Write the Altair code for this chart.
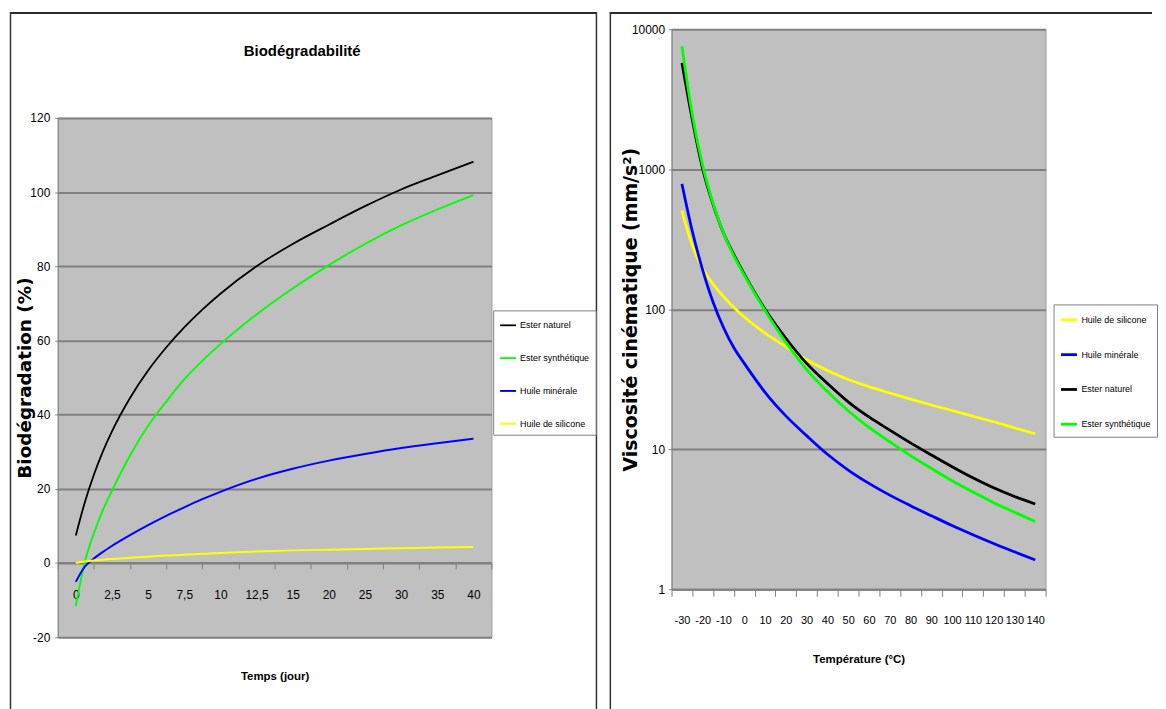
import json
import altair as alt
import pandas as pd

# ---------------- Left panel: Biodégradabilité ----------------
bio_title = "Biodégradabilité"
bio_names = ["Ester naturel", "Ester synthétique", "Huile minérale", "Huile de silicone"]
bio_colors = ["#000000", "#00ff00", "#0000ff", "#ffff00"]
bio_widths = [1.8, 2.0, 2.8, 2.8]
bio_labels = ["0", "2,5", "5", "7,5", "10", "12,5", "15", "20", "25", "30", "35", "40"]
# sample positions along the category axis (category index)
bio_pos = [0, 0.25, 0.5, 0.75, 1, 1.5, 2, 2.5, 3, 3.5, 4, 5, 6, 7, 8, 9, 10, 11]
bio_ester_naturel = [7.4, 16.4, 23.8, 30.1, 35.5, 44.5, 51.9, 58.1, 63.5, 68.3, 72.6,
                     80.0, 86.0, 91.2, 96.2, 100.7, 104.5, 108.2]
bio_ester_synth = [-11.6, 0.3, 8.0, 14.3, 19.5, 29.0, 37.0, 43.5, 49.5, 54.5, 59.0,
                   67.0, 74.0, 80.3, 86.0, 91.0, 95.3, 99.2]
bio_huile_min = [-5.1, -1.0, 1.2, 3.0, 4.6, 7.5, 10.2, 12.7, 15.0, 17.2, 19.2,
                 22.7, 25.4, 27.6, 29.4, 31.0, 32.3, 33.5]
bio_huile_sil = [0.0, 0.4, 0.7, 0.9, 1.1, 1.4, 1.7, 2.0, 2.2, 2.5, 2.7,
                 3.1, 3.4, 3.6, 3.8, 4.0, 4.2, 4.3]
bio_yticks = [-20, 0, 20, 40, 60, 80, 100, 120]

# ---------------- Right panel: viscosité ----------------
visc_names = ["Huile de silicone", "Huile minérale", "Ester naturel", "Ester synthétique"]
visc_colors = ["#ffff00", "#0000ff", "#000000", "#00ff00"]
visc_widths = [2.8, 2.8, 2.0, 2.0]
visc_temp_labels = ["-30", "-20", "-10", "0", "10", "20", "30", "40", "50", "60",
                    "70", "80", "90", "100", "110", "120", "130", "140"]
visc_temp = [-30, -25, -20, -15, -10, -5, 0, 10, 20, 30, 40, 50, 60, 70, 80,
             90, 100, 110, 120, 130, 140]
visc_silicone = [507, 285, 195, 151, 123, 103, 88, 67.5, 54, 43.5, 36.5, 31.5,
                 28, 25.2, 22.8, 20.7, 18.9, 17.2, 15.7, 14.2, 12.9]
visc_minerale = [785, 360, 190, 112, 74, 53, 41, 25.5, 17.3, 12.5, 9.2, 7.1,
                 5.7, 4.7, 3.95, 3.35, 2.85, 2.45, 2.12, 1.85, 1.62]
visc_naturel = [5740, 2250, 1000, 560, 350, 245, 178, 100, 62, 41, 29.5, 21.8,
                17.0, 13.7, 11.1, 9.1, 7.5, 6.25, 5.3, 4.6, 4.06]
visc_synth = [7550, 2450, 1060, 570, 350, 240, 175, 98, 58, 37, 25.8, 18.8,
              14.3, 11.3, 9.0, 7.3, 5.95, 4.95, 4.15, 3.55, 3.04]
visc_yticks = [1, 10, 100, 1000, 10000]

LAB = "Liberation Sans, Arial, Helvetica, sans-serif"
WIDE = "DejaVu Sans, Verdana, sans-serif"


def long_df(xs, series):
    rows = []
    for name, vals in series:
        for x, v in zip(xs, vals):
            rows.append({"x": x, "y": v, "serie": name})
    return pd.DataFrame(rows)


bio_df = long_df(bio_pos, [
    ("Ester naturel", bio_ester_naturel),
    ("Ester synthétique", bio_ester_synth),
    ("Huile minérale", bio_huile_min),
    ("Huile de silicone", bio_huile_sil),
])
visc_df = long_df(visc_temp, [
    ("Huile de silicone", visc_silicone),
    ("Huile minérale", visc_minerale),
    ("Ester naturel", visc_naturel),
    ("Ester synthétique", visc_synth),
])

ONE = alt.InlineData(values=[{"k": 0}])


def hrule(x1, x2, y, w=2.0, color="#2a2a2a"):
    return alt.Chart(ONE).mark_rule(color=color, strokeWidth=w).encode(
        x=alt.value(x1), x2=alt.value(x2), y=alt.value(y))


def vrule(x, y1, y2, w=1.5, color="#333333"):
    return alt.Chart(ONE).mark_rule(color=color, strokeWidth=w).encode(
        x=alt.value(x), y=alt.value(y1), y2=alt.value(y2))


def legend(lx, ly):
    return alt.Legend(title=None, orient="none", legendX=lx, legendY=ly,
                      direction="vertical", fillColor="white", strokeColor="#808080",
                      padding=6, symbolType="stroke", symbolSize=256,
                      symbolStrokeWidth=2.5, labelFont=LAB, labelFontSize=9,
                      labelColor="black", rowPadding=19, labelOffset=3)


# ---------- left chart ----------
W1, H1 = 436, 522
band1 = W1 / len(bio_labels)
zero_px = H1 * 120 / 140
bio_label_expr = f"({json.dumps(bio_labels)})[round(datum.value + 0.5)] || ''"

bio_lines = alt.Chart(bio_df).mark_line(interpolate="monotone").encode(
    x=alt.X("x:Q",
            scale=alt.Scale(domain=[-0.5, len(bio_labels) - 0.5], nice=False, zero=False),
            axis=alt.Axis(values=[i - 0.5 for i in range(len(bio_labels) + 1)],
                          labelExpr=bio_label_expr, labelOffset=band1 / 2,
                          offset=zero_px - H1, grid=False, tickSize=6,
                          domainWidth=2, labelPadding=20.5, labelFontSize=12,
                          title="Temps (jour)", titleFont=LAB, titleFontSize=11.5,
                          titleFontWeight="bold", titleY=114, titleBaseline="middle",
                          labelOverlap=False, labelFlush=False)),
    y=alt.Y("y:Q", scale=alt.Scale(domain=[-20, 120], nice=False),
            axis=alt.Axis(values=bio_yticks, labelExpr="'' + datum.value",
                          tickSize=3, labelPadding=5,
                          labelFontSize=12, title="Biodégradation (%)", titleFont=WIDE,
                          titleFontSize=18.5, titleFontWeight="bold", titleX=-33,
                          titleY=H1 / 2, titleBaseline="middle", titleAlign="center")),
    color=alt.Color("serie:N", scale=alt.Scale(domain=bio_names, range=bio_colors),
                    legend=legend(437.7, 193.5)),
    strokeWidth=alt.StrokeWidth("serie:N",
                                scale=alt.Scale(domain=bio_names, range=bio_widths),
                                legend=None),
)

bio_title_mark = alt.Chart(ONE).mark_text(
    text=bio_title, font=LAB, fontSize=15, fontWeight="bold", color="black",
    align="center", baseline="middle",
).encode(x=alt.value(245.7), y=alt.value(-67))

# panel frame (pixel offsets from the plot area); sides run past the window bottom
L_TOP, L_BOT = -105.5, 600
left = alt.layer(
    bio_lines,
    bio_title_mark,
    hrule(-48, 541.5, L_TOP),
    vrule(-47.5, L_TOP - 1, L_BOT),
    vrule(541.5, L_TOP - 1, L_BOT),
).properties(width=W1, height=H1)

# ---------- right chart ----------
W2, H2 = 376, 563
band2 = W2 / len(visc_temp_labels)
visc_label_expr = f"({json.dumps(visc_temp_labels)})[round((datum.value + 35) / 10)] || ''"

visc_lines = alt.Chart(visc_df).mark_line(interpolate="monotone").encode(
    x=alt.X("x:Q", scale=alt.Scale(domain=[-35, 145], nice=False, zero=False),
            axis=alt.Axis(values=[-35 + 10 * i for i in range(len(visc_temp_labels) + 1)],
                          labelExpr=visc_label_expr, labelOffset=band2 / 2,
                          grid=False, tickSize=7, domainWidth=2, labelPadding=18,
                          labelFontSize=11, title="Température (°C)", titleFont=LAB,
                          titleFontSize=11.5, titleFontWeight="bold", titleY=71,
                          titleBaseline="middle", labelOverlap=False, labelFlush=False)),
    y=alt.Y("y:Q", scale=alt.Scale(type="log", domain=[1, 10000], nice=False),
            axis=alt.Axis(values=visc_yticks, format="d", tickSize=3, labelPadding=4,
                          labelFontSize=12, title="Viscosité cinématique (mm/s²)",
                          titleFont=WIDE, titleFontSize=19, titleFontWeight="bold",
                          titleX=-41.5, titleY=H2 / 2, titleBaseline="middle",
                          titleAlign="center")),
    color=alt.Color("serie:N", scale=alt.Scale(domain=visc_names, range=visc_colors),
                    legend=legend(384, 276.7)),
    strokeWidth=alt.StrokeWidth("serie:N",
                                scale=alt.Scale(domain=visc_names, range=visc_widths),
                                legend=None),
)

# the right frame runs further down (past the window) so that the centred
# concat places the left plot area lower than the right one, as in the reference
R_TOP = -16.3
R_BOT = L_BOT + 178.4
right = alt.layer(
    visc_lines,
    hrule(-62, 483, R_TOP),
    vrule(-61.5, R_TOP - 1, R_BOT),
).properties(width=W2, height=H2)

chart = alt.hconcat(left, right, spacing=10, center=True).resolve_scale(
    x="independent", y="independent", color="independent", strokeWidth="independent"
).properties(
    padding={"left": 0, "top": 0, "right": 0, "bottom": 0}
).configure_view(
    fill="#c0c0c0", stroke="#a0a0a0", strokeWidth=1
).configure_axis(
    gridColor="#808080", gridWidth=2, domainColor="#808080", tickColor="#808080",
    labelColor="black", titleColor="black", labelFont=LAB,
)

chart.save("out.html", embed_options={"renderer": "svg", "actions": False})
